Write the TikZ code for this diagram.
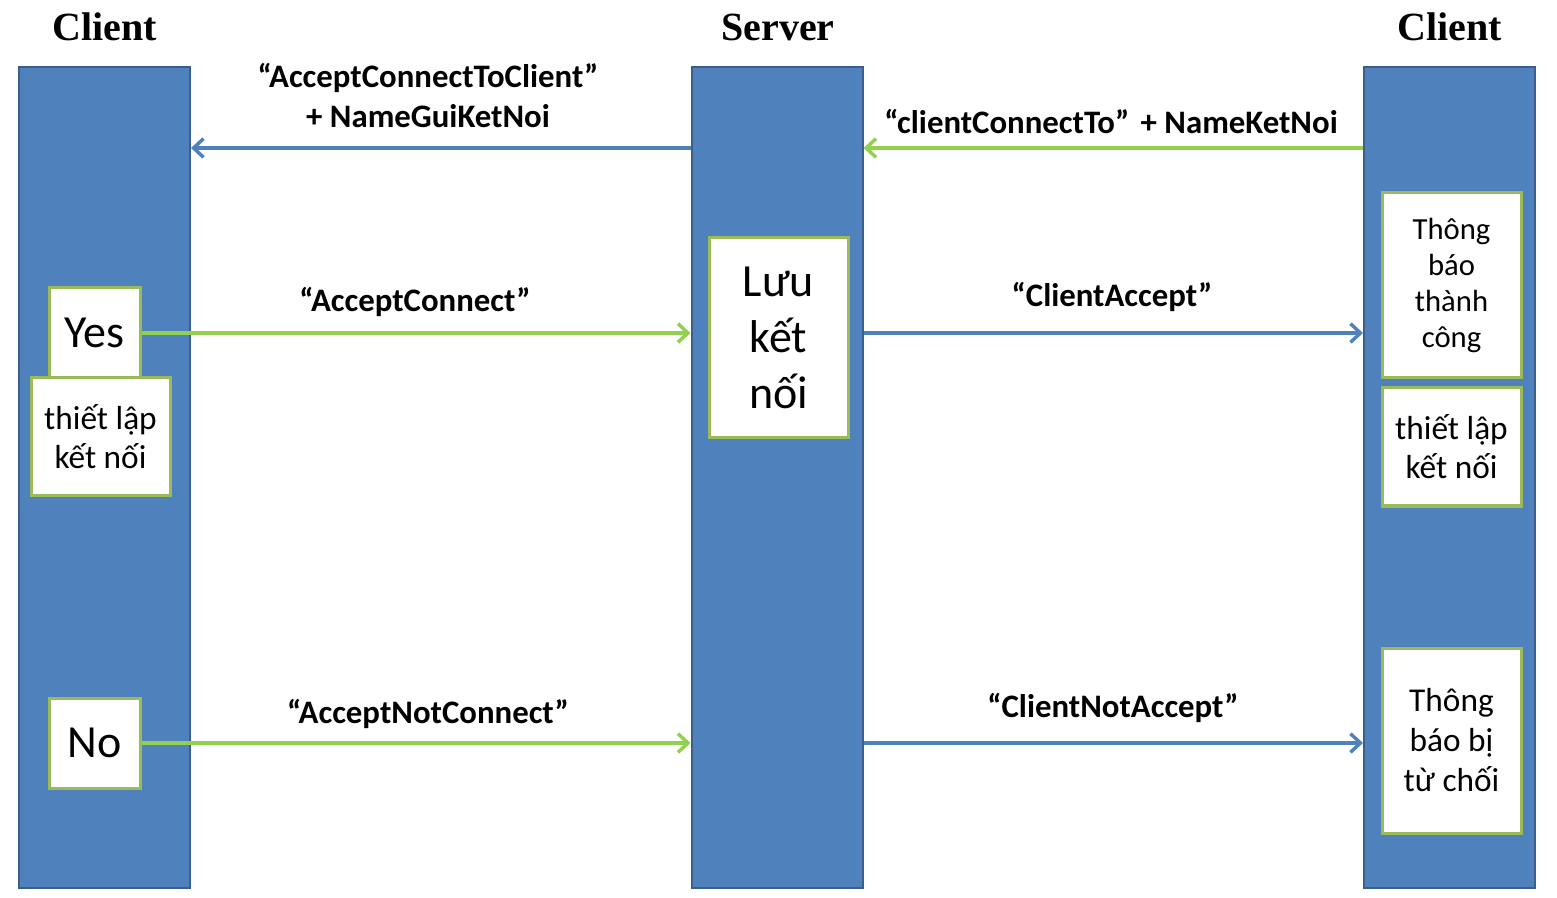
\documentclass[tikz,border=0pt]{standalone}
\usepackage{fontspec}
\setmainfont{Carlito}
\newfontfamily\titlefont{Liberation Serif}
\usetikzlibrary{arrows.meta}
\definecolor{barblue}{HTML}{4F81BD}
\definecolor{baredge}{HTML}{3A5F8B}
\definecolor{boxgreen}{HTML}{9BBB59}
\definecolor{arrgreen}{HTML}{92D050}
\definecolor{arrblue}{HTML}{4F81BD}
\tikzset{
  bar/.style={draw=baredge, fill=barblue, line width=1.5pt, minimum width=128.25pt, minimum height=615.75pt, inner sep=0pt},
  wbox/.style={draw=boxgreen, fill=white, line width=2.25pt, inner sep=0pt, align=center, text=black},
  ttl/.style={font=\titlefont\bfseries\fontsize{30}{36}\selectfont},
  lbl/.style={font=\bfseries\fontsize{24.6}{30}\selectfont, align=center},
  garrow/.style={draw=arrgreen, line width=2.6pt, -{Straight Barb[length=7.5pt,width=14pt,line width=2.6pt]}},
  barrow/.style={draw=arrblue, line width=2.6pt, -{Straight Barb[length=7.5pt,width=14pt,line width=2.6pt]}},
}
\begin{document}
\begin{tikzpicture}[x=0.75pt,y=-0.75pt]
\useasboundingbox (0,0) rectangle (1557,898);
% titles
\node[ttl] (t1) at (105,27) {Client};
\node[ttl] (t2) at (778,27) {Server};
\node[ttl] (t3) at (1450,27) {Client};
% bars
\node[bar] (lc) at (104.5,477.5) {};
\node[bar] (srv) at (777,477.5) {};
\node[bar] (rc) at (1449.5,477.5) {};
% boxes
\node[wbox, minimum width=68.25pt, minimum height=67.5pt, font=\fontsize{34.5}{42}\selectfont] (yes) at (94.5,333) {Yes};
\node[wbox, minimum width=104.25pt, minimum height=88.5pt, font=\fontsize{25}{29.25}\selectfont] (tl1) at (100.5,437) {thiết lập\\kết nối};
\node[wbox, minimum width=68.25pt, minimum height=67.5pt, font=\fontsize{34.5}{42}\selectfont] (no) at (94.5,743) {No};
\node[wbox, minimum width=104.25pt, minimum height=150pt, font=\fontsize{34.5}{42}\selectfont] (luu) at (778.5,338) {Lưu\\kết\\nối};
\node[wbox, minimum width=104.25pt, minimum height=138.75pt, font=\fontsize{23}{27}\selectfont] (tbtc) at (1451.5,285.5) {Thông\\báo\\thành\\công};
\node[wbox, minimum width=104.25pt, minimum height=88.5pt, font=\fontsize{25}{29.25}\selectfont] (tl2) at (1451.5,447) {thiết lập\\kết nối};
\node[wbox, minimum width=104.25pt, minimum height=138.75pt, font=\fontsize{25}{30}\selectfont] (tbtc2) at (1451.5,740.5) {Thông\\báo bị\\từ chối};
% connectors
\coordinate (r1) at (0,148);
\draw[barrow] (srv.west |- r1) -- (lc.east |- r1);
\draw[garrow] (rc.west |- r1) -- (srv.east |- r1);
\draw[garrow] (yes.east) -- (srv.west |- yes.east);
\draw[barrow] (srv.east |- yes.east) -- (rc.west |- yes.east);
\draw[garrow] (no.east) -- (srv.west |- no.east);
\draw[barrow] (srv.east |- no.east) -- (rc.west |- no.east);
% labels
\node[lbl] (l1) at (428,96) {“AcceptConnectToClient”\\+ NameGuiKetNoi};
\node[lbl] (l2) at (1111,122) {“clientConnectTo”\hspace{3pt} + NameKetNoi};
\node[lbl] (l3) at (415,302) {“AcceptConnect”};
\node[lbl] (l4) at (1112,297) {“ClientAccept”};
\node[lbl] (l5) at (428,714) {“AcceptNotConnect”};
\node[lbl] (l6) at (1113,708) {“ClientNotAccept”};
\end{tikzpicture}
\end{document}
